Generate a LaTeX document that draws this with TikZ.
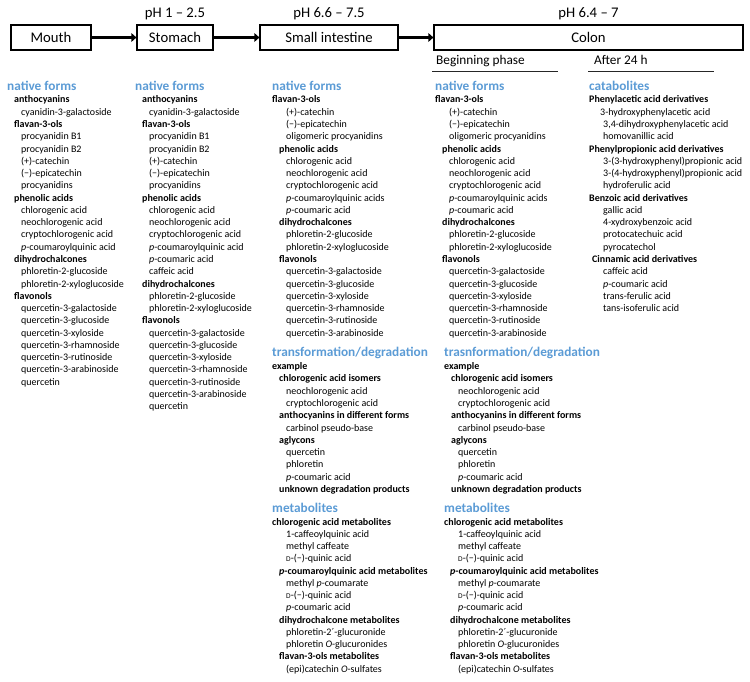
\documentclass[tikz,border=0pt]{standalone}
\usepackage{fontspec}
\setmainfont{Carlito}
\usetikzlibrary{arrows.meta}
\definecolor{hblue}{HTML}{5B9BD5}
\newcommand\Dsc{{\fontsize{7.4}{9}\selectfont D}}
\newcommand\mklist[4]{%
  \foreach [count=\n] \dx/\tx in {#4}{%
    \node[itm] (#1\n) at ({#2+\dx},{#3+(\n-1)*12.27}) {\tx};
  }}
\begin{document}
\begin{tikzpicture}[x=1pt,y=-1pt,
  itm/.style={anchor=base west, inner sep=0pt, font=\fontsize{10}{12}\selectfont},
  hd/.style={anchor=base west, inner sep=0pt, text=hblue, font=\fontsize{13.3}{16}\selectfont\bfseries},
  stage/.style={draw, line width=1.1pt, minimum height=25pt, inner sep=0pt, font=\fontsize{14.7}{17}\selectfont},
  arr/.style={line width=3.6pt, -{Triangle[length=5pt,width=8.5pt]}},
  phlab/.style={inner sep=0pt, anchor=base, font=\fontsize{14.7}{17}\selectfont},
  subhd/.style={anchor=base west, inner sep=0pt, font=\fontsize{13.3}{16}\selectfont},
  uline/.style={draw=black!85, line width=0.9pt}]
\useasboundingbox (0,0) rectangle (750,682);

% ---- stages ----
\node[stage, minimum width=80pt]  (mouth)   at (51,37.5)   {Mouth};
\node[stage, minimum width=76pt]  (stomach) at (175,37.5)  {Stomach};
\node[stage, minimum width=138pt] (small)   at (329,37.5)  {Small intestine};
\node[stage, minimum width=309pt] (colon)   at (588.5,37.5) {Colon};
\draw[arr] (mouth.east) -- (stomach.west);
\draw[arr] (stomach.east) -- (small.west);
\draw[arr] (small.east) -- (colon.west);

\node[phlab] (ph1) at (175,18) {pH 1 – 2.5};
\node[phlab] (ph2) at (329,18) {pH 6.6 – 7.5};
\node[phlab] (ph3) at (588.5,18) {pH 6.4 – 7};

\node[subhd] (beg) at (436,65) {Beginning phase};
\node[subhd] (aft) at (594,65) {After 24 h};
\coordinate (bl1) at (432,71); \coordinate (bl2) at (558,71);
\coordinate (al1) at (588,71); \coordinate (al2) at (714,71);
\draw[uline] (bl1) -- (bl2);
\draw[uline] (al1) -- (al2);

% ---- column 1: mouth ----
\node[hd] (ha) at (7,91) {native forms};
\mklist{a}{7}{103}{7/\textbf{anthocyanins},
14/cyanidin-3-galactoside,
7/\textbf{flavan-3-ols},
14/procyanidin B1,
14/procyanidin B2,
14/(+)-catechin,
14/(−)-epicatechin,
14/procyanidins,
7/\textbf{phenolic acids},
14/chlorogenic acid,
14/neochlorogenic acid,
14/cryptochlorogenic acid,
14/\textit{p}-coumaroylquinic acid,
7/\textbf{dihydrochalcones},
14/phloretin-2-glucoside,
14/phloretin-2-xyloglucoside,
7/\textbf{flavonols},
14/quercetin-3-galactoside,
14/quercetin-3-glucoside,
14/quercetin-3-xyloside,
14/quercetin-3-rhamnoside,
14/quercetin-3-rutinoside,
14/quercetin-3-arabinoside,
14/quercetin}

% ---- column 2: stomach ----
\node[hd] (hb) at (135,91) {native forms};
\mklist{b}{135}{103}{7/\textbf{anthocyanins},
14/cyanidin-3-galactoside,
7/\textbf{flavan-3-ols},
14/procyanidin B1,
14/procyanidin B2,
14/(+)-catechin,
14/(−)-epicatechin,
14/procyanidins,
7/\textbf{phenolic acids},
14/chlorogenic acid,
14/neochlorogenic acid,
14/cryptochlorogenic acid,
14/\textit{p}-coumaroylquinic acid,
14/\textit{p}-coumaric acid,
14/caffeic acid,
7/\textbf{dihydrochalcones},
14/phloretin-2-glucoside,
14/phloretin-2-xyloglucoside,
7/\textbf{flavonols},
14/quercetin-3-galactoside,
14/quercetin-3-glucoside,
14/quercetin-3-xyloside,
14/quercetin-3-rhamnoside,
14/quercetin-3-rutinoside,
14/quercetin-3-arabinoside,
14/quercetin}

% ---- column 3: small intestine ----
\node[hd] (hc) at (272,91) {native forms};
\mklist{c}{272}{103}{0/\textbf{flavan-3-ols},
14/(+)-catechin,
14/(−)-epicatechin,
14/oligomeric procyanidins,
7/\textbf{phenolic acids},
14/chlorogenic acid,
14/neochlorogenic acid,
14/cryptochlorogenic acid,
14/\textit{p}-coumaroylquinic acids,
14/\textit{p}-coumaric acid,
7/\textbf{dihydrochalcones},
14/phloretin-2-glucoside,
14/phloretin-2-xyloglucoside,
7/\textbf{flavonols},
14/quercetin-3-galactoside,
14/quercetin-3-glucoside,
14/quercetin-3-xyloside,
14/quercetin-3-rhamnoside,
14/quercetin-3-rutinoside,
14/quercetin-3-arabinoside}

\node[hd] (hct) at (272,356.7) {transformation/degradation};
\mklist{ct}{272}{369.7}{0/\textbf{example},
7/\textbf{chlorogenic acid isomers},
14/neochlorogenic acid,
14/cryptochlorogenic acid,
7/\textbf{anthocyanins in different forms},
14/carbinol pseudo-base,
7/\textbf{aglycons},
14/quercetin,
14/phloretin,
14/\textit{p}-coumaric acid,
7/\textbf{unknown degradation products}}

\node[hd] (hcm) at (272,512) {metabolites};
\mklist{cm}{272}{525}{0/\textbf{chlorogenic acid metabolites},
14/1-caffeoylquinic acid,
14/methyl caffeate,
14/\Dsc-(−)-quinic acid,
7/\textbf{\textit{p}-coumaroylquinic acid metabolites},
14/methyl \textit{p}-coumarate,
14/\Dsc-(−)-quinic acid,
14/\textit{p}-coumaric acid,
7/\textbf{dihydrochalcone metabolites},
14/phloretin-2´-glucuronide,
14/phloretin \textit{O}-glucuronides,
7/\textbf{flavan-3-ols metabolites},
14/(epi)catechin \textit{O}-sulfates}

% ---- column 4: colon, beginning phase ----
\node[hd] (hd4) at (435,91) {native forms};
\mklist{d}{435}{103}{0/\textbf{flavan-3-ols},
14/(+)-catechin,
14/(−)-epicatechin,
14/oligomeric procyanidins,
7/\textbf{phenolic acids},
14/chlorogenic acid,
14/neochlorogenic acid,
14/cryptochlorogenic acid,
14/\textit{p}-coumaroylquinic acids,
14/\textit{p}-coumaric acid,
7/\textbf{dihydrochalcones},
14/phloretin-2-glucoside,
14/phloretin-2-xyloglucoside,
7/\textbf{flavonols},
14/quercetin-3-galactoside,
14/quercetin-3-glucoside,
14/quercetin-3-xyloside,
14/quercetin-3-rhamnoside,
14/quercetin-3-rutinoside,
14/quercetin-3-arabinoside}

\node[hd] (hdt) at (444,356.7) {trasnformation/degradation};
\mklist{dt}{444}{369.7}{0/\textbf{example},
7/\textbf{chlorogenic acid isomers},
14/neochlorogenic acid,
14/cryptochlorogenic acid,
7/\textbf{anthocyanins in different forms},
14/carbinol pseudo-base,
7/\textbf{aglycons},
14/quercetin,
14/phloretin,
14/\textit{p}-coumaric acid,
7/\textbf{unknown degradation products}}

\node[hd] (hdm) at (444,512) {metabolites};
\mklist{dm}{444}{525}{0/\textbf{chlorogenic acid metabolites},
14/1-caffeoylquinic acid,
14/methyl caffeate,
14/\Dsc-(−)-quinic acid,
6/\textbf{\textit{p}-coumaroylquinic acid metabolites},
14/methyl \textit{p}-coumarate,
14/\Dsc-(−)-quinic acid,
14/\textit{p}-coumaric acid,
6/\textbf{dihydrochalcone metabolites},
14/phloretin-2´-glucuronide,
14/phloretin \textit{O}-glucuronides,
6/\textbf{flavan-3-ols metabolites},
14/(epi)catechin \textit{O}-sulfates}

% ---- column 5: colon, after 24 h ----
\node[hd] (he) at (589,91) {catabolites};
\mklist{e}{589}{103}{0/\textbf{Phenylacetic acid derivatives},
11/3-hydroxyphenylacetic acid,
14/{3,4-dihydroxyphenylacetic acid},
14/homovanillic acid,
0/\textbf{Phenylpropionic acid derivatives},
14/3-(3-hydroxyphenyl)propionic acid,
14/3-(4-hydroxyphenyl)propionic acid,
14/hydroferulic acid,
0/\textbf{Benzoic acid derivatives},
14/gallic acid,
14/4-xydroxybenzoic acid,
14/protocatechuic acid,
14/pyrocatechol,
3/\textbf{Cinnamic acid derivatives},
14/caffeic acid,
14/\textit{p}-coumaric acid,
14/trans-ferulic acid,
14/tans-isoferulic acid}
\end{tikzpicture}
\end{document}
